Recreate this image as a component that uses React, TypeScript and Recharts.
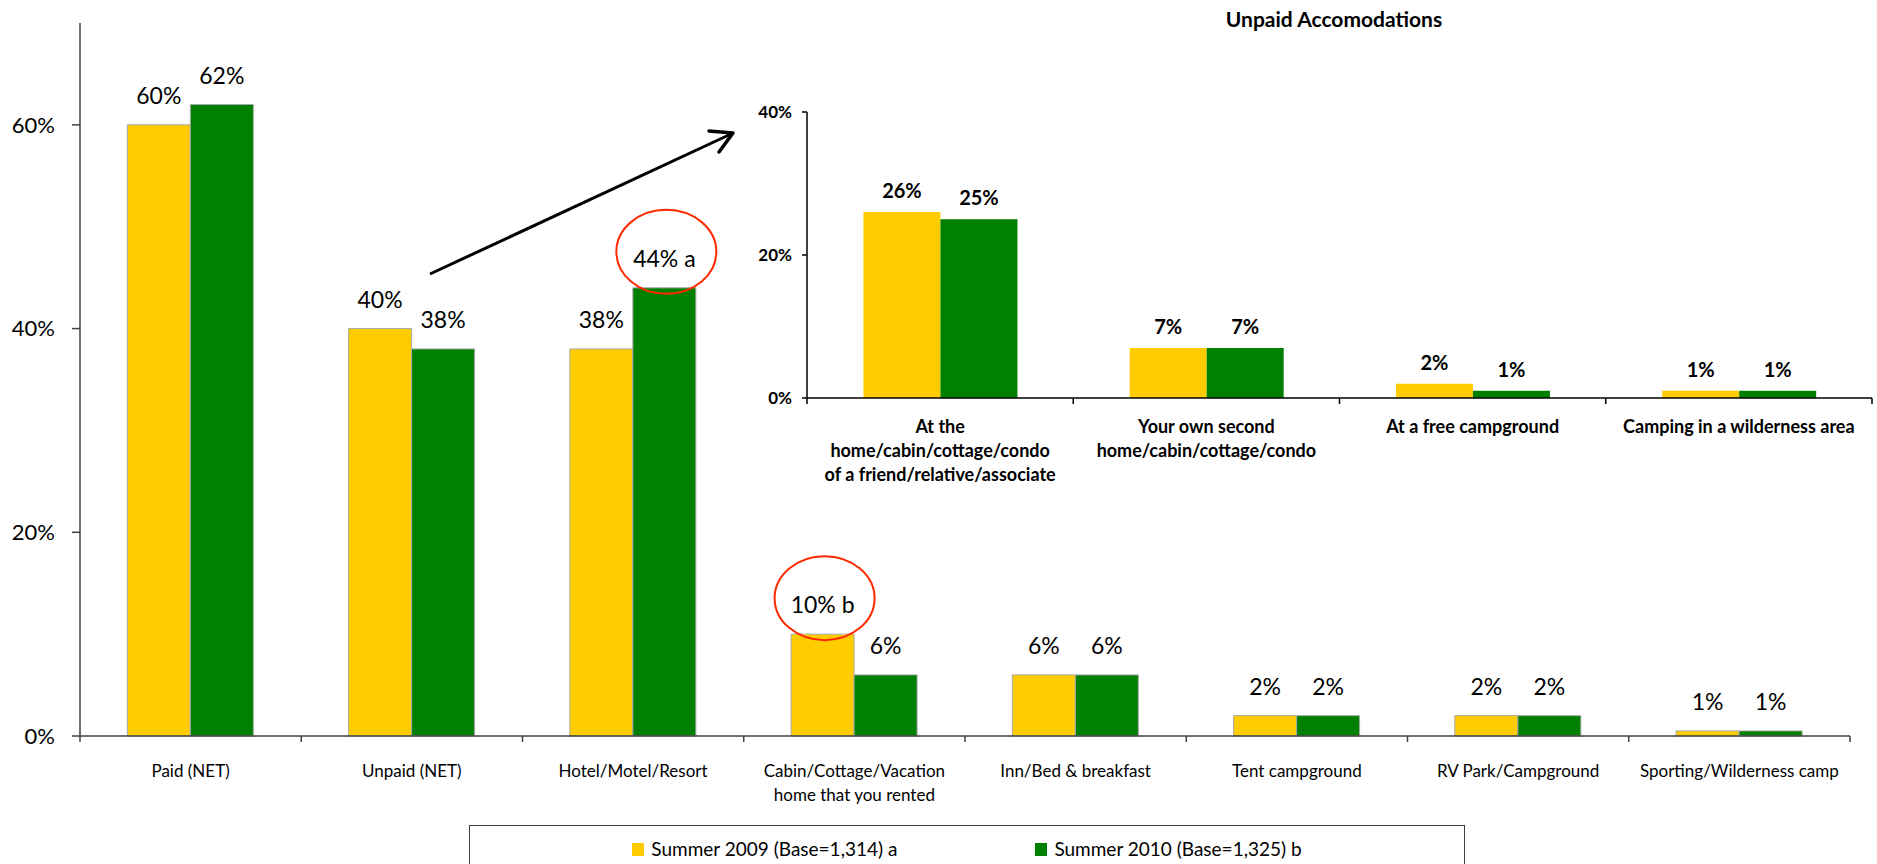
import React from 'react';
import { BarChart, Bar, XAxis, YAxis, LabelList } from 'recharts';

// ---------- data ----------
const mainCategories = [
  'Paid (NET)',
  'Unpaid (NET)',
  'Hotel/Motel/Resort',
  'Cabin/Cottage/Vacation\nhome that  you rented',
  'Inn/Bed & breakfast',
  'Tent campground',
  'RV Park/Campground',
  'Sporting/Wilderness camp',
];
const main2009 = [60, 40, 38, 10, 6, 2, 2, 0.5];
const main2010 = [62, 38, 44, 6, 6, 2, 2, 0.5];
const mainLabels2009 = ['60%', '40%', '38%', '10% b', '6%', '2%', '2%', '1%'];
const mainLabels2010 = ['62%', '38%', '44% a', '6%', '6%', '2%', '2%', '1%'];
const mainTicks = [0, 20, 40, 60];

const insetTitle = 'Unpaid Accomodations';
const insetCategories = [
  'At the\nhome/cabin/cottage/condo\nof a friend/relative/associate',
  'Your own second\nhome/cabin/cottage/condo',
  'At a free campground',
  'Camping in a wilderness area',
];
const inset2009 = [26, 7, 2, 1];
const inset2010 = [25, 7, 1, 1];
const insetLabels2009 = ['26%', '7%', '2%', '1%'];
const insetLabels2010 = ['25%', '7%', '1%', '1%'];
const insetTicks = [0, 20, 40];

const seriesNames = ['Summer 2009 (Base=1,314) a', 'Summer 2010 (Base=1,325) b'];

// ---------- styles ----------
const FONT = "Lato, 'Open Sans', 'DejaVu Sans', sans-serif";
const YELLOW = '#FFCC00';
const GREEN = '#008000';
const W = 1877;
const H = 864;

const mainData = mainCategories.map((name, i) => ({
  name,
  y2009: main2009[i],
  y2010: main2010[i],
  l2009: mainLabels2009[i],
  l2010: mainLabels2010[i],
}));
const insetData = insetCategories.map((name, i) => ({
  name,
  y2009: inset2009[i],
  y2010: inset2010[i],
  l2009: insetLabels2009[i],
  l2010: insetLabels2010[i],
}));

// main layout
const M_LEFT_AXIS = 80;
const M_RIGHT = 27;
const mainBand = (W - M_LEFT_AXIS - M_RIGHT) / mainCategories.length;

// inset layout
const I_W = 1177;
const I_H = 480;
const I_AXIS = 107;
const I_RIGHT = 5;
const insetBand = (I_W - I_AXIS - I_RIGHT) / insetCategories.length;

const MainTick = (props: any) => {
  const { x, y, payload, index } = props;
  const lines = String(payload.value).split('\n');
  const half = mainBand / 2;
  const last = index === mainCategories.length - 1;
  return (
    <g>
      <line x1={x - half} x2={x - half} y1={y} y2={y + 6} stroke="#404040" strokeWidth={1.5} />
      {last && <line x1={x + half} x2={x + half} y1={y} y2={y + 6} stroke="#404040" strokeWidth={1.5} />}
      <text x={x} y={y + 41} textAnchor="middle" fontSize={17} fill="#000" fontFamily={FONT}>
        {lines.map((l, i) => (
          <tspan key={i} x={x} dy={i === 0 ? 0 : 24}>
            {l}
          </tspan>
        ))}
      </text>
    </g>
  );
};

const InsetTick = (props: any) => {
  const { x, y, payload, index } = props;
  const lines = String(payload.value).split('\n');
  const half = insetBand / 2;
  const last = index === insetCategories.length - 1;
  return (
    <g>
      <line x1={x - half} x2={x - half} y1={y} y2={y + 6} stroke="#000" strokeWidth={1.5} />
      {last && <line x1={x + half} x2={x + half} y1={y} y2={y + 6} stroke="#000" strokeWidth={1.5} />}
      <text x={x} y={y + 35} textAnchor="middle" fontSize={18} fontWeight="bold" fill="#000" fontFamily={FONT}>
        {lines.map((l, i) => (
          <tspan key={i} x={x} dy={i === 0 ? 0 : 24}>
            {l}
          </tspan>
        ))}
      </text>
    </g>
  );
};

const MainValueLabel = (props: any) => {
  const { x, y, width, value } = props;
  const fs = 23;
  const cx = x + width / 2;
  const cy = y - 29;
  const annotated = / [ab]$/.test(String(value));
  return (
    <g>
      {annotated && (
        <ellipse cx={cx + 2} cy={cy - 7} rx={50} ry={42} fill="none" stroke="#FF2A00" strokeWidth={2} />
      )}
      <text x={cx} y={cy + fs * 0.36} textAnchor="middle" fontSize={fs} fill="#000" fontFamily={FONT}>
        {value}
      </text>
    </g>
  );
};

const InsetValueLabel = (props: any) => {
  const { x, y, width, value } = props;
  const fs = 20;
  const cx = x + width / 2;
  const cy = y - 21;
  return (
    <text x={cx} y={cy + fs * 0.36} textAnchor="middle" fontSize={fs} fontWeight="bold" fill="#000" fontFamily={FONT}>
      {value}
    </text>
  );
};

export default function App() {
  return (
    <div style={{ position: 'absolute', left: 0, top: 0, width: W, height: H, background: '#fff', overflow: 'hidden', fontFamily: FONT }}>
      {/* main chart */}
      <div style={{ position: 'absolute', left: 0, top: 0 }}>
        <BarChart
          width={W}
          height={H}
          data={mainData}
          margin={{ top: 23, right: M_RIGHT, bottom: 68, left: 0 }}
          barCategoryGap="21.4%"
          barGap={0}
        >
          <XAxis
            dataKey="name"
            height={60}
            interval={0}
            tickSize={0}
            tickMargin={0}
            tickLine={false}
            tick={MainTick}
            axisLine={{ stroke: '#404040', strokeWidth: 1.5 }}
          />
          <YAxis
            width={M_LEFT_AXIS}
            domain={[0, 70]}
            ticks={mainTicks}
            tickFormatter={(v: number) => `${v}%`}
            tickSize={8}
            tickMargin={17}
            tick={{ fontSize: 22, fill: '#000', fontFamily: FONT }}
            tickLine={{ stroke: '#404040', strokeWidth: 1.5 }}
            axisLine={{ stroke: '#404040', strokeWidth: 1.5 }}
          />
          <Bar dataKey="y2009" name={seriesNames[0]} fill={YELLOW} stroke="#a8a8a8" strokeWidth={1} isAnimationActive={false}>
            <LabelList dataKey="l2009" content={MainValueLabel} />
          </Bar>
          <Bar dataKey="y2010" name={seriesNames[1]} fill={GREEN} stroke="#a8a8a8" strokeWidth={1} isAnimationActive={false}>
            <LabelList dataKey="l2010" content={MainValueLabel} />
          </Bar>
        </BarChart>
      </div>

      {/* inset chart */}
      <div style={{ position: 'absolute', left: 700, top: 60 }}>
        <BarChart
          width={I_W}
          height={I_H}
          data={insetData}
          margin={{ top: 52, right: I_RIGHT, bottom: 0, left: 0 }}
          barCategoryGap="21.2%"
          barGap={0}
        >
          <XAxis
            dataKey="name"
            height={142}
            interval={0}
            tickSize={0}
            tickMargin={0}
            tickLine={false}
            tick={InsetTick}
            axisLine={{ stroke: '#000', strokeWidth: 1.5 }}
          />
          <YAxis
            width={I_AXIS}
            domain={[0, 40]}
            ticks={insetTicks}
            tickFormatter={(v: number) => `${v}%`}
            tickSize={5}
            tickMargin={10}
            tick={{ fontSize: 17, fill: '#000', fontWeight: 'bold', fontFamily: FONT }}
            tickLine={{ stroke: '#000', strokeWidth: 1.5 }}
            axisLine={{ stroke: '#000', strokeWidth: 1.5 }}
          />
          <Bar dataKey="y2009" name={seriesNames[0]} fill={YELLOW} isAnimationActive={false}>
            <LabelList dataKey="l2009" content={InsetValueLabel} />
          </Bar>
          <Bar dataKey="y2010" name={seriesNames[1]} fill={GREEN} isAnimationActive={false}>
            <LabelList dataKey="l2010" content={InsetValueLabel} />
          </Bar>
        </BarChart>
      </div>

      {/* inset title */}
      <div
        style={{
          position: 'absolute',
          left: 1134,
          width: 400,
          top: 8,
          textAlign: 'center',
          fontSize: 21,
          lineHeight: '21px',
          fontWeight: 'bold',
          color: '#000',
        }}
      >
        {insetTitle}
      </div>

      {/* arrow annotation */}
      <svg width={W} height={H} style={{ position: 'absolute', left: 0, top: 0, pointerEvents: 'none' }}>
        <line x1={430} y1={274} x2={731} y2={134} stroke="#000" strokeWidth={3} />
        <polyline points="709,131 733,133 719,152" fill="none" stroke="#000" strokeWidth={3.5} strokeLinejoin="round" strokeLinecap="round" />
      </svg>

      {/* legend */}
      <div
        style={{
          position: 'absolute',
          left: 469,
          top: 825,
          width: 996,
          height: 60,
          border: '1.5px solid #404040',
          boxSizing: 'border-box',
        }}
      />
      <div
        style={{
          position: 'absolute',
          left: 469,
          top: 836,
          width: 996,
          height: 26,
          display: 'flex',
          alignItems: 'center',
          justifyContent: 'center',
          gap: 138,
          fontSize: 19,
          lineHeight: '24px',
          color: '#000',
        }}
      >
        {seriesNames.map((n, i) => (
          <div key={n} style={{ display: 'flex', alignItems: 'center' }}>
            <span style={{ display: 'inline-block', width: 12, height: 13, background: i === 0 ? YELLOW : GREEN, marginRight: 7 }} />
            <span>{n}</span>
          </div>
        ))}
      </div>
    </div>
  );
}
